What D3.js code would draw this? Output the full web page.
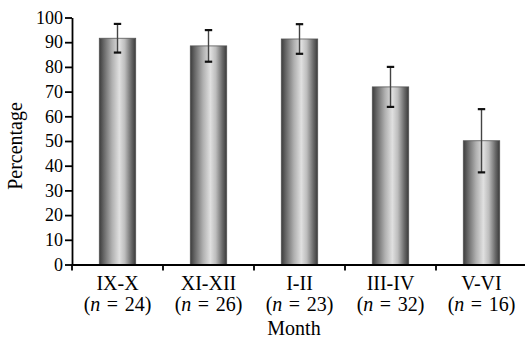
<!DOCTYPE html>
<html><head><meta charset="utf-8">
<script src="https://cdn.jsdelivr.net/npm/d3@7"></script>
<style>body{margin:0;background:#fff}svg{display:block}</style>
</head><body><svg id="c" width="525" height="339"></svg>
<script>
const months = ["IX-X","XI-XII","I-II","III-IV","V-VI"];
const nLabels = ["24","26","23","32","16"];
const values = [91.6, 88.5, 91.3, 71.9, 50.1];
const errors = [5.8, 6.4, 6.0, 8.1, 12.8];
const yTicks = [0,10,20,30,40,50,60,70,80,90,100];

const svg = d3.select("#c");
const m = {l:72, t:17.5, r:-2, b:74.5};
const W = 525, H = 339;
const x = d3.scaleBand().domain(months).range([m.l, W - m.r]).paddingInner(0).paddingOuter(0);
const y = d3.scaleLinear().domain([0,100]).range([H - m.b, m.t]);

const defs = svg.append("defs");
const g = defs.append("linearGradient").attr("id","cyl").attr("x1","0").attr("x2","1").attr("y1","0").attr("y2","0");
[[0,"#3c3c3c"],[0.12,"#666"],[0.35,"#b0b0b0"],[0.55,"#e0e0e0"],[0.7,"#bdbdbd"],[0.88,"#6a6a6a"],[1,"#3a3a3a"]]
  .forEach(([o,c])=>g.append("stop").attr("offset",o).attr("stop-color",c));

const bw = x.bandwidth()*0.4;
const data = months.map((k,i)=>({k, v:values[i], e:errors[i], n:nLabels[i]}));

svg.append("g").selectAll("rect").data(data).join("rect")
  .attr("x", d=>x(d.k)+x.bandwidth()/2-bw/2)
  .attr("width", bw)
  .attr("y", d=>y(d.v))
  .attr("height", d=>y(0)-y(d.v))
  .attr("fill","url(#cyl)")
  .attr("stroke","#555").attr("stroke-width",0.8);

const eb = svg.append("g");
eb.selectAll("line.v").data(data).join("line").attr("class","v")
  .attr("x1", d=>x(d.k)+x.bandwidth()/2).attr("x2", d=>x(d.k)+x.bandwidth()/2)
  .attr("y1", d=>y(d.v+d.e)).attr("y2", d=>y(d.v-d.e))
  .attr("stroke","#444").attr("stroke-width",1.4);
eb.selectAll("line.t").data(data.flatMap(d=>[{d,s:1},{d,s:-1}])).join("line").attr("class","t")
  .attr("x1", o=>x(o.d.k)+x.bandwidth()/2-3.7).attr("x2", o=>x(o.d.k)+x.bandwidth()/2+3.7)
  .attr("y1", o=>y(o.d.v+o.s*o.d.e)).attr("y2", o=>y(o.d.v+o.s*o.d.e))
  .attr("stroke","#111").attr("stroke-width",2.2);

// Y axis
const ya = svg.append("g").attr("transform",`translate(${m.l},0)`)
  .call(d3.axisLeft(y).tickValues(yTicks).tickSize(7).tickPadding(2).tickSizeOuter(0));
ya.select(".domain").attr("stroke","#000").attr("stroke-width",1.8);
ya.selectAll(".tick line").attr("stroke","#000").attr("stroke-width",1.8);
ya.selectAll("text").attr("font-family","Liberation Serif").attr("font-size",18).attr("fill","#000");

// X axis
const xa = svg.append("g").attr("transform",`translate(0,${y(0)})`)
  .call(d3.axisBottom(x).tickSize(0).tickFormat(""));
xa.select(".domain").attr("stroke","#000").attr("stroke-width",1.8);
const bounds = months.map(k=>x(k)).concat([x(months[months.length-1])+x.bandwidth()]);
xa.selectAll("line.b").data(bounds).join("line").attr("class","b")
  .attr("x1",d=>d).attr("x2",d=>d).attr("y1",0).attr("y2",6)
  .attr("stroke","#000").attr("stroke-width",1.8);

const lab = svg.append("g").attr("font-family","Liberation Serif").attr("font-size",20).attr("fill","#000").attr("text-anchor","middle");
lab.selectAll("text.m").data(data).join("text").attr("class","m")
  .attr("x", d=>x(d.k)+x.bandwidth()/2).attr("y", 290).text(d=>d.k);
const nt = lab.selectAll("text.n").data(data).join("text").attr("class","n")
  .attr("x", d=>x(d.k)+x.bandwidth()/2).attr("y", 311).attr("word-spacing", 1.5);
nt.append("tspan").text("(");
nt.append("tspan").attr("font-style","italic").text("n");
nt.append("tspan").text(d=>" = "+d.n+")");

lab.append("text").attr("x", 294).attr("y", 335).text("Month");
lab.append("text").attr("transform",`translate(22,146) rotate(-90)`).text("Percentage");
</script></body></html>
